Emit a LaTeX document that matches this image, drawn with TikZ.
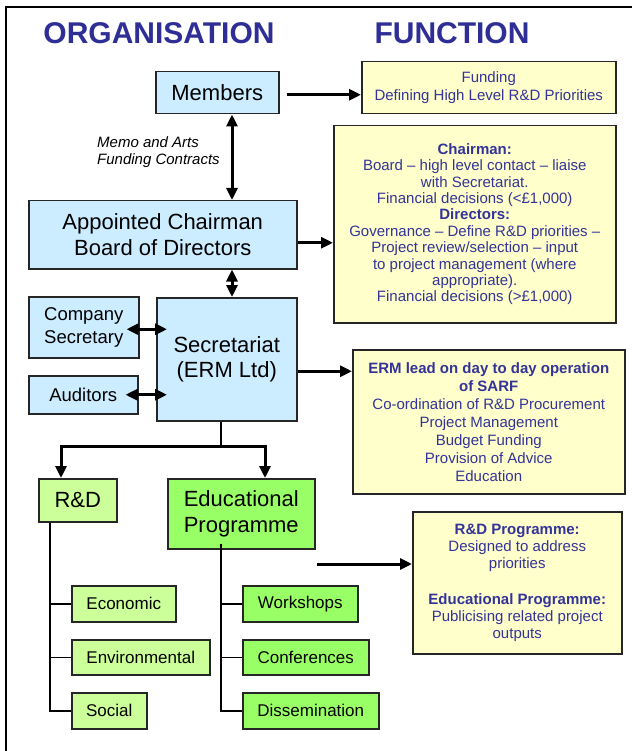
\documentclass[tikz,border=0pt]{standalone}
\usepackage{fontspec}
\setmainfont{Liberation Sans}
\usetikzlibrary{arrows.meta}
\definecolor{lblue}{HTML}{CCECFF}
\definecolor{lgreen}{HTML}{CCFF99}
\definecolor{bgreen}{HTML}{99FF66}
\definecolor{yel}{HTML}{FFFFCC}
\definecolor{txtblue}{HTML}{333399}
\definecolor{ttlblue}{HTML}{2E2E96}
\begin{document}
\begin{tikzpicture}[x=1pt,y=-1pt,
  box/.style={draw=black!85, line width=1.5pt, inner sep=0pt, align=center, anchor=north west},
  bluebox/.style={box, fill=lblue},
  lgbox/.style={box, fill=lgreen},
  bgbox/.style={box, fill=bgreen},
  yelbox/.style={box, fill=yel, text=txtblue},
  big/.style={font=\fontsize{22}{25.5}\selectfont},
  mid/.style={font=\fontsize{18.5}{22.5}\selectfont},
  small/.style={font=\fontsize{17}{20}\selectfont},
  title/.style={font=\fontsize{30}{34}\selectfont\bfseries, text=ttlblue, anchor=base, inner sep=0pt},
  tip/.tip={Triangle[length=12pt,width=11pt]},
  arr/.style={line width=3pt, -tip},
  dbl/.style={line width=3pt, tip-tip},
  tree/.style={line width=1.5pt}]
\useasboundingbox (0,0) rectangle (632,751);
\fill[white] (0,0) rectangle (632,751);
\draw[line width=1.6pt] (6,751) -- (6,7) -- (632,7);

% titles
\node[title] (t1) at (159,44) {ORGANISATION};
\node[title] (t2) at (452,44) {FUNCTION};

% organisation boxes
\node[bluebox, big, minimum width=123pt, minimum height=42pt] (mem) at (155,71) {Members};
\node[bluebox, big, minimum width=268pt, minimum height=68pt] (ch) at (28,200) {Appointed Chairman\\Board of Directors};
\node[bluebox, mid, minimum width=110pt, minimum height=61pt] (cs) at (28,296) {Company\\Secretary};
\node[bluebox, mid, minimum width=109pt, minimum height=38pt] (aud) at (28,375) {Auditors};
\node[bluebox, big, minimum width=140pt, minimum height=123pt] (sec) at (156,297) {Secretariat\\(ERM Ltd)};
\node[lgbox, big, minimum width=78pt, minimum height=43pt] (rd) at (38,478) {R\&D};
\node[bgbox, big, minimum width=147pt, minimum height=70pt] (edu) at (167,478) {Educational\\Programme};
\node[lgbox, small, minimum width=104pt, minimum height=36pt] (econ) at (71,585) {Economic};
\node[lgbox, small, minimum width=138pt, minimum height=35pt] (env) at (71,639) {Environmental};
\node[lgbox, small, minimum width=75pt, minimum height=36pt] (soc) at (71,692) {Social};
\node[bgbox, small, minimum width=115pt, minimum height=36pt] (work) at (242,585) {Workshops};
\node[bgbox, small, minimum width=126pt, minimum height=35pt] (conf) at (242,639) {Conferences};
\node[bgbox, small, minimum width=136pt, minimum height=36pt] (diss) at (242,692) {Dissemination};

\node[anchor=north west, inner sep=0pt, align=left, font=\fontsize{15}{17.5}\selectfont\itshape] (memo) at (97,136) {Memo and Arts\\Funding Contracts};

% function boxes
\node[yelbox, font=\fontsize{15}{18}\selectfont, minimum width=254pt, minimum height=52pt] (y1) at (361,61)
  {Funding\\Defining High Level R\&D Priorities};
\node[yelbox, font=\fontsize{15}{16.4}\selectfont, minimum width=282pt, minimum height=197pt] (y2) at (333,125)
  {\textbf{Chairman:}\\Board – high level contact – liaise\\with Secretariat.\\Financial decisions (<£1,000)\\\textbf{Directors:}\\Governance – Define R\&D priorities –\\Project review/selection – input\\to project management (where\\appropriate).\\Financial decisions (>£1,000)};
\node[yelbox, font=\fontsize{15}{18}\selectfont, minimum width=272pt, minimum height=144pt] (y3) at (352,349)
  {\textbf{ERM lead on day to day operation}\\\textbf{of SARF}\\Co-ordination of R\&D Procurement\\Project Management\\Budget Funding\\Provision of Advice\\Education};
\node[yelbox, font=\fontsize{15}{16.7}\selectfont, minimum width=209pt, minimum height=142pt] (y4) at (412,511)
  {\textbf{R\&D Programme:}\\Designed to address\\priorities\\[20pt]\textbf{Educational Programme:}\\Publicising related project\\outputs};

% connectors
\coordinate (a1) at ([xshift=7pt,yshift=-2pt]mem.east);
\draw[arr] (a1) -- (y1.west |- a1);
\coordinate (vx) at (232,0);
\draw[dbl] (mem.south -| vx) -- (ch.north -| vx);
\draw[dbl] (ch.south -| vx) -- (sec.north -| vx);
\coordinate (a2) at ([yshift=-8pt]ch.east);
\draw[arr] (a2) -- (y2.west |- a2);
\coordinate (a3) at ([xshift=-13pt,yshift=-2pt]cs.east);
\coordinate (a3e) at ([xshift=11pt]sec.west);
\draw[dbl] (a3) -- (a3e |- a3);
\coordinate (a4) at ([xshift=-13pt]aud.east);
\draw[dbl] (a4) -- (a3e |- a4);
\coordinate (a5) at ([yshift=-12pt]sec.east);
\draw[arr] (a5) -- (y3.west |- a5);

\coordinate (j) at (221,446);
\coordinate (ja) at (61,446);
\coordinate (jb) at (265,446);
\draw[tree] (sec.south -| j) -- (j);
\draw[dbl] (ja |- rd.north) -- (ja) -- (jb) -- (jb |- edu.north);

\coordinate (ea) at (317,564);
\draw[arr] (ea) -- (y4.west |- ea);

% trees
\coordinate (rl) at ([xshift=12pt]rd.south west);
\draw[tree] (rl) |- (soc.west);
\draw[tree] (econ.west) -- (econ.west -| rl);
\draw[tree] (env.west) -- (env.west -| rl);
\coordinate (el) at ([xshift=54pt,yshift=6pt]edu.south west);
\draw[tree] (el) |- (diss.west);
\draw[tree] (work.west) -- (work.west -| el);
\draw[tree] (conf.west) -- (conf.west -| el);
\end{tikzpicture}
\end{document}
